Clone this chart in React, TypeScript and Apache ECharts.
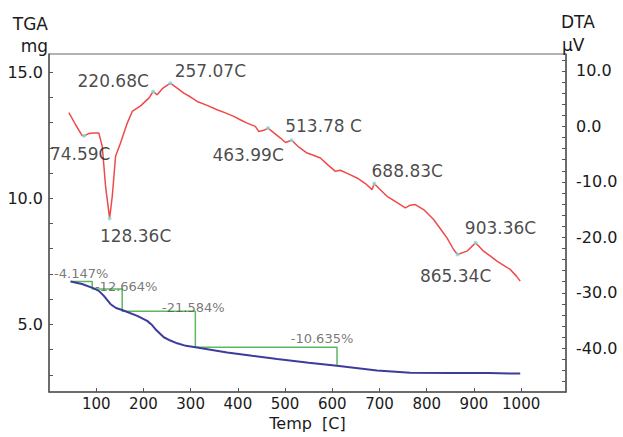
import React, { useEffect, useRef } from "react";
import * as echarts from "echarts";

// ---------- DATA ----------
// TGA curve (temperature in C, mass in mg)
const tgaTemp = [45.7, 70, 95, 105.6, 116.2, 130.5, 142, 155, 187, 207.9, 217, 225.4, 243.2, 257, 271.5, 290, 310.3, 377.3, 430, 483.2, 550, 610, 650, 694.8, 765, 850, 930, 998];
const tgaMass = [6.7, 6.6, 6.43, 6.33, 6.13, 5.8, 5.65, 5.57, 5.34, 5.14, 5.0, 4.81, 4.49, 4.36, 4.25, 4.15, 4.09, 3.89, 3.76, 3.63, 3.48, 3.36, 3.27, 3.17, 3.08, 3.07, 3.07, 3.05];

// DTA curve (temperature in C, signal in uV)
const dtaTemp = [42.1, 56.3, 70.5, 74.6, 84, 95, 105.6, 112.8, 119.8, 128.4, 134, 141, 151.5, 165.7, 176.3, 193.9, 211.5, 220.7, 229.2, 240, 257.1, 270, 285.5, 300, 313.8, 335, 356, 375, 391.3, 405, 419.5, 437, 444, 455, 464, 477, 490.2, 500.8, 513.8, 530, 546.7, 560, 574.8, 590, 606.6, 617.1, 635, 652.4, 670, 684.2, 688.8, 700, 716, 735, 754.7, 765, 775.8, 793.4, 814.6, 830, 842.9, 856.9, 865.3, 885.2, 903.4, 920.5, 935, 948.8, 962, 977, 990, 998];
const dtaValue = [2.5, 0.3, -1.7, -1.7, -1.3, -1.2, -1.2, -3.6, -10.8, -16.6, -12.6, -5.4, -3.0, 0.6, 2.7, 3.7, 5.1, 6.3, 5.7, 6.8, 7.8, 7.0, 6.0, 5.3, 4.5, 3.8, 3.0, 2.4, 1.8, 1.2, 0.6, 0.0, -0.9, -0.7, -0.3, -1.2, -2.1, -2.9, -2.5, -3.8, -4.8, -5.2, -5.7, -6.9, -8.1, -7.9, -8.6, -9.3, -10.3, -11.4, -10.3, -11.3, -12.6, -13.6, -14.7, -14.2, -14.1, -15.0, -16.8, -18.6, -20.1, -22.2, -23.1, -22.5, -21.0, -22.5, -23.4, -24.3, -25.0, -25.8, -27.0, -27.9];

// DTA peak annotations
const peakTemps = [74.59, 128.36, 220.68, 257.07, 463.99, 513.78, 688.83, 865.34, 903.36];
const peakValues = [-1.7, -16.6, 6.3, 7.8, -0.3, -2.5, -10.3, -23.1, -21.0];
const peakTexts = ["74.59C", "128.36C", "220.68C", "257.07C", "463.99C", "513.78 C", "688.83C", "865.34C", "903.36C"];

// TGA weight-loss step lines
const stepTemp = [45.7, 91.6, 91.6, 155, 155, 310, 310, 610, 610];
const stepMass = [6.7, 6.7, 6.4, 6.4, 5.52, 5.52, 4.09, 4.09, 3.4];
const lossTexts = ["-4.147%", "-12.664%", "-21.584%", "-10.635%"];
const lossAnchorIndex = [1, 3, 5, 7];

// Axis ticks / labels
const xTickValues = [100, 200, 300, 400, 500, 600, 700, 800, 900, 1000];
const tgaLabelValues = [5, 10, 15];
const tgaTickValues = [3, 4, 5, 6, 7, 8, 9, 10, 11, 12, 13, 14, 15];
const dtaLabelValues = [10, 0, -10, -20, -30, -40];
const dtaTickValues = [-46, -44, -42, -40, -38, -36, -34, -32, -30, -28, -26, -24, -22, -20, -18, -16, -14, -12, -10, -8, -6, -4, -2, 0, 2, 4, 6, 8, 10, 12];

// ---------- LAYOUT / STYLE ----------
const FONT = "DejaVu Sans";
const TEXT = "#1a1a1a";
const peakLabelOffsets = [[-4, 18], [26, 18], [-40, -10], [40, -12], [-20, 27], [32, -14], [33, -13], [-2, 22], [25, -15]];
const lossLabelOffsets = [[-11, -8], [4, -3], [-2, -4], [-15, -9]];

export default function App() {
  const ref = useRef<HTMLDivElement>(null);
  useEffect(() => {
    if (!ref.current) return;
    const chart = echarts.init(ref.current, null, { renderer: "svg" });
    const axisColor = "#555";
    const option: any = {
      animation: false,
      grid: {
        left: 49, right: 57, top: 54, bottom: 45,
        show: true, borderColor: "#666", borderWidth: 1, backgroundColor: "transparent",
      },
      graphic: [
        { type: "text", right: 623 - 48, top: 15, style: { text: "TGA", font: `17px '${FONT}'`, fill: TEXT, textAlign: "right" } },
        { type: "text", right: 623 - 48, top: 37, style: { text: "mg", font: `17px '${FONT}'`, fill: TEXT, textAlign: "right" } },
        { type: "text", left: 561, top: 13, style: { text: "DTA", font: `17px '${FONT}'`, fill: TEXT } },
        { type: "text", left: 562, top: 36, style: { text: "µV", font: `17px '${FONT}'`, fill: TEXT } },
      ],
      xAxis: {
        type: "value", min: 0, max: 1095, interval: 100,
        name: "Temp  [C]", nameLocation: "middle", nameGap: 23,
        nameTextStyle: { fontFamily: FONT, fontSize: 16, color: TEXT },
        axisLine: { show: true, onZero: false, lineStyle: { color: axisColor, width: 1.5 } },
        axisTick: { show: true, inside: true, length: 4, customValues: xTickValues, lineStyle: { color: axisColor } },
        axisLabel: { customValues: xTickValues, formatter: (v: number) => String(v), margin: 4, fontFamily: FONT, fontSize: 15, color: TEXT },
        splitLine: { show: false },
      },
      yAxis: [
        {
          type: "value", position: "left", min: 2.32, max: 15.72,
          axisLine: { show: true, onZero: false, lineStyle: { color: axisColor, width: 1.5 } },
          axisTick: { show: true, inside: true, length: 4, customValues: tgaTickValues, lineStyle: { color: axisColor } },
          axisLabel: { customValues: tgaLabelValues, formatter: (v: number) => v.toFixed(1), margin: 6, fontFamily: FONT, fontSize: 16, color: TEXT },
          splitLine: { show: false },
        },
        {
          type: "value", position: "right", min: -47.9, max: 13.06,
          axisLine: { show: true, onZero: false, lineStyle: { color: axisColor, width: 1.5 } },
          axisTick: { show: true, inside: true, length: 4, customValues: dtaTickValues, lineStyle: { color: axisColor } },
          axisLabel: { customValues: dtaLabelValues, formatter: (v: number) => v.toFixed(1), margin: 10, fontFamily: FONT, fontSize: 16, color: TEXT },
          splitLine: { show: false },
        },
      ],
      series: [
        {
          name: "TGA", type: "line", yAxisIndex: 0, symbol: "none",
          data: tgaTemp.map((t, i) => [t, tgaMass[i]]),
          lineStyle: { color: "#3c3c9c", width: 2 }, z: 3,
        },
        {
          name: "Steps", type: "line", yAxisIndex: 0, symbol: "none",
          data: stepTemp.map((t, i) => [t, stepMass[i]]),
          lineStyle: { color: "#5cb85c", width: 1.5 }, z: 2,
        },
        {
          name: "DTA", type: "line", yAxisIndex: 1, symbol: "none",
          data: dtaTemp.map((t, i) => [t, dtaValue[i]]),
          lineStyle: { color: "#ee4a4a", width: 1.5 }, z: 3,
        },
        {
          name: "Peaks", type: "scatter", yAxisIndex: 1, symbolSize: 4,
          itemStyle: { color: "#7fdede" }, z: 4,
          data: peakTemps.map((t, i) => ({
            value: [t, peakValues[i]],
            label: {
              show: true, position: "inside", formatter: peakTexts[i], offset: peakLabelOffsets[i],
              fontFamily: FONT, fontSize: 17, color: TEXT,
            },
          })),
        },
        {
          name: "Loss", type: "scatter", yAxisIndex: 0, symbolSize: 0.1,
          itemStyle: { color: "transparent" }, z: 5,
          data: lossTexts.map((txt, i) => ({
            value: [stepTemp[lossAnchorIndex[i]], stepMass[lossAnchorIndex[i]]],
            label: {
              show: true, position: "inside", formatter: txt, offset: lossLabelOffsets[i],
              fontFamily: FONT, fontSize: 13, color: "#555",
            },
          })),
        },
      ],
    };
    chart.setOption(option);
    return () => chart.dispose();
  }, []);
  return <div ref={ref} style={{ position: "absolute", left: 0, top: 0, width: 623, height: 437 }} />;
}
